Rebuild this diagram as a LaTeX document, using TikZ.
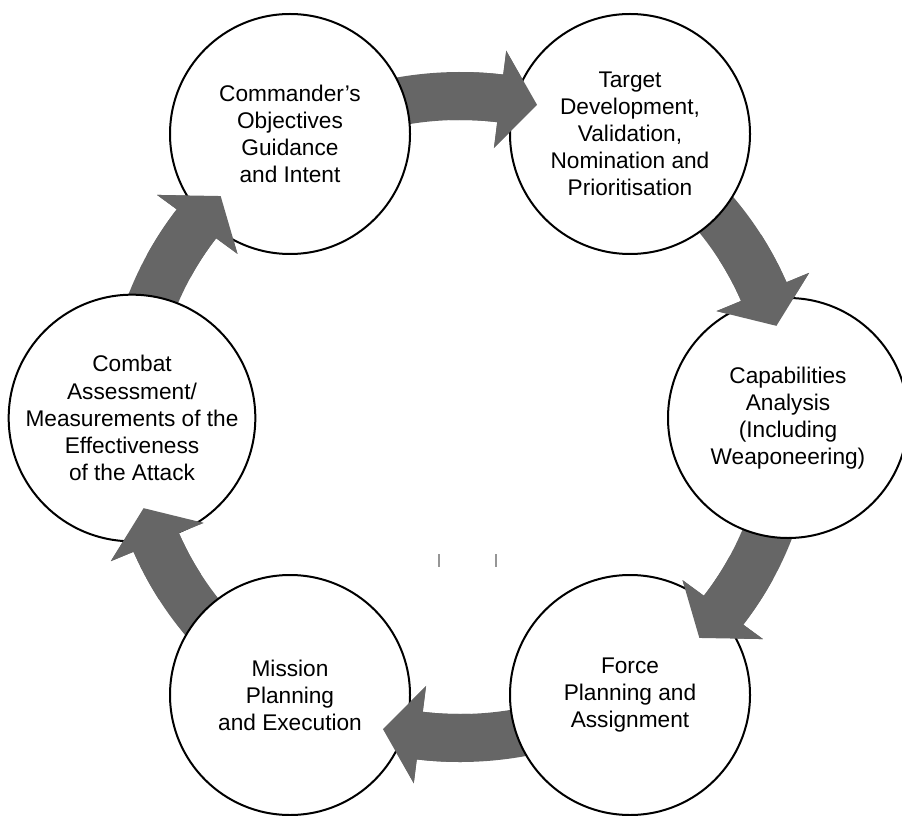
\documentclass[tikz,border=0pt]{standalone}
\usepackage{fontspec}
\setmainfont{Liberation Sans}
\tikzset{every picture/.style={line width=0.75pt}}
\tikzset{
  stage/.style={circle, draw=black, line width=1.5pt, fill=white, minimum size=180pt,
    inner sep=0pt, align=center, font=\fontsize{17}{20.3}\selectfont},
  cyclearrow/.style={fill={rgb, 255:red, 102; green, 102; blue, 102}, draw=none},
  tickmark/.style={draw={rgb, 255:red, 150; green, 150; blue, 150}, line width=1pt}
}
% arrow band round the hub, from angle #1 to #2
\newcommand{\bandarrow}[2]{%
  \fill[cyclearrow] ({#1}:345) arc[start angle={#1}, end angle={#2-23}, radius=345]
    -- ({#2-23}:369) -- ({#2-16.5}:321) -- ({#2-23}:271) -- ({#2-23}:297)
    arc[start angle={#2-23}, end angle={#1}, radius=297] -- cycle;}

\begin{document}
\begin{tikzpicture}[x=0.75pt,y=0.75pt,yscale=-1,xscale=1]
\useasboundingbox (0,0) rectangle (902,816);
\coordinate (hub) at (460,417);

%Arrows: full bands, tails go under the circles
\begin{scope}[shift={(hub)}, xscale=1.028]
\foreach \s/\t in {240/300, 300/360, 0/60, 60/120, 120/180, 180/240}
  {\bandarrow{\s+14}{\t}}
\end{scope}

%Shape: Circles
\node[stage] (objectives) at (290,134) {Commander’s\\Objectives\\Guidance\\and Intent};
\node[stage] (targetdev) at (630,134) {Target\\Development,\\Validation,\\Nomination and\\Prioritisation};
\node[stage] (capability) at (788,418) {Capabilities\\Analysis\\(Including\\Weaponeering)};
\node[stage] (forceplan) at (630,695) {Force\\Planning and\\Assignment};
\node[stage] (missionplan) at (290,695) {Mission\\Planning\\and Execution};
\node[stage] (assessment) at (132,418) {Combat\\Assessment/\\Measurements of the\\Effectiveness\\of the Attack};

%Arrows: heads laid over the next circle
\begin{scope}[shift={(hub)}, xscale=1.028]
\foreach \s/\t in {240/300, 300/360, 0/60, 60/120, 120/180, 180/240}
  {\bandarrow{\t-32}{\t}}
\end{scope}

%Straight Lines: two small marks
\draw[tickmark] (439,554) -- (439,567);
\draw[tickmark] (496,554) -- (496,567);

\end{tikzpicture}
\end{document}
